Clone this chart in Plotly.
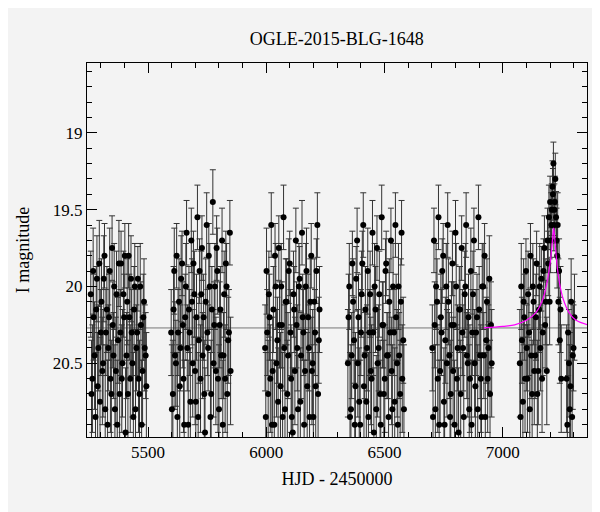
import plotly.graph_objects as go

t1 = [5258,5265,5270,5278,5284,5290,5297,5303,5310,5316,5322,5329,5335,5341,5348,5354,5360,5367,5373,5380,5386,5392,5399,5405,5412,5418,5425,5431,5438,5444,5451,5457,5464,5470,5477,5483,5490]
m1 = [20.05,20.6,20.2,20.85,19.95,20.4,20.75,20.1,20.5,19.8,20.3,20.9,20.2,20.6,19.75,20.45,20.8,20.05,20.35,20.7,19.85,20.5,20.2,20.95,20.1,19.8,20.6,20.3,20.85,20.0,20.4,19.95,20.7,20.25,20.55,20.1,20.45]
e1 = [0.2,0.25,0.2,0.3,0.2,0.2,0.3,0.2,0.25,0.15,0.2,0.3,0.2,0.25,0.15,0.2,0.3,0.2,0.2,0.25,0.15,0.25,0.2,0.3,0.2,0.15,0.25,0.2,0.3,0.2,0.2,0.15,0.25,0.2,0.25,0.2,0.2]
t1b = [5261,5268,5274,5281,5287,5294,5300,5307,5313,5319,5326,5332,5338,5345,5351,5357,5364,5370,5377,5383,5389,5396,5402,5409,5415,5421,5428,5434,5441,5447,5454,5460,5467,5473,5480,5486,5493]
m1b = [20.7,19.9,20.45,20.15,20.65,19.85,20.3,20.55,19.95,20.8,20.15,20.4,19.9,20.7,20.25,20.0,20.55,20.9,19.85,20.3,20.6,20.05,19.8,20.45,20.7,20.2,19.95,20.5,20.15,20.8,20.3,20.6,20.0,20.9,20.2,20.4,20.65]
e1b = [0.25,0.2,0.25,0.2,0.25,0.2,0.2,0.25,0.2,0.3,0.2,0.2,0.2,0.25,0.2,0.2,0.25,0.3,0.2,0.2,0.25,0.2,0.15,0.2,0.25,0.2,0.2,0.25,0.2,0.3,0.2,0.25,0.2,0.3,0.2,0.2,0.25]
t2 = [5598,5605,5611,5618,5624,5631,5637,5644,5650,5657,5663,5670,5676,5683,5689,5696,5702,5709,5715,5722,5728,5735,5741,5748,5754,5761,5767,5774,5780,5787,5793,5800,5806,5813,5819,5826,5832,5839,5846]
m2 = [20.3,20.7,19.9,20.5,20.85,20.1,20.4,19.85,20.6,20.2,19.65,20.9,20.3,19.7,20.5,20.05,20.75,19.55,20.35,20.6,19.75,20.2,20.95,19.6,20.4,20.0,20.7,19.45,20.25,20.55,19.9,20.8,20.15,19.7,20.45,20.6,20.0,20.35,19.65]
e2 = [0.2,0.25,0.2,0.2,0.3,0.2,0.2,0.15,0.25,0.2,0.15,0.3,0.2,0.15,0.25,0.2,0.3,0.15,0.2,0.25,0.15,0.2,0.3,0.15,0.2,0.2,0.25,0.15,0.2,0.25,0.2,0.3,0.2,0.15,0.2,0.25,0.2,0.2,0.15]
t2b = [5601,5608,5614,5621,5627,5634,5640,5647,5653,5660,5666,5673,5679,5686,5692,5699,5705,5712,5718,5725,5731,5738,5744,5751,5757,5764,5770,5777,5783,5790,5796,5803,5809,5816,5822,5829,5835,5842,5849]
m2b = [20.8,20.15,20.45,19.8,20.3,20.65,19.95,20.25,20.9,20.0,20.4,20.15,20.75,20.1,19.85,20.55,20.2,20.85,19.9,20.05,20.45,20.7,20.1,20.3,19.8,20.85,20.15,20.5,20.0,19.75,20.6,20.25,20.45,20.9,20.05,19.85,20.7,20.3,20.55]
e2b = [0.3,0.2,0.25,0.15,0.2,0.25,0.2,0.2,0.3,0.2,0.2,0.2,0.25,0.2,0.15,0.25,0.2,0.3,0.15,0.2,0.2,0.25,0.2,0.2,0.15,0.3,0.2,0.25,0.2,0.15,0.25,0.2,0.2,0.3,0.2,0.15,0.25,0.2,0.25]
t3 = [5995,6001,6008,6014,6021,6027,6034,6040,6047,6053,6060,6066,6073,6079,6086,6092,6099,6105,6112,6118,6125,6131,6138,6144,6151,6157,6164,6170,6177,6183,6190,6196,6203,6209,6216,6222]
m3 = [20.4,19.9,20.7,20.2,19.6,20.55,20.9,20.0,20.35,19.75,20.65,20.25,19.55,20.8,20.1,20.45,19.85,20.6,20.95,20.15,19.7,20.4,20.0,20.75,19.65,20.3,20.55,19.9,20.2,20.85,19.8,20.5,20.1,20.65,19.6,20.35]
e3 = [0.2,0.2,0.25,0.2,0.15,0.25,0.3,0.2,0.2,0.15,0.25,0.2,0.15,0.3,0.2,0.2,0.15,0.25,0.3,0.2,0.15,0.2,0.2,0.25,0.15,0.2,0.25,0.2,0.2,0.3,0.15,0.25,0.2,0.25,0.15,0.2]
t3b = [5998,6004,6011,6017,6024,6030,6037,6043,6050,6056,6063,6069,6076,6082,6089,6095,6102,6108,6115,6121,6128,6134,6141,6147,6154,6160,6167,6173,6180,6186,6193,6199,6206,6212,6219,6225]
m3b = [20.85,20.3,20.05,20.6,20.9,20.15,19.8,20.5,20.75,20.25,20.0,20.85,20.4,20.1,20.7,19.9,20.3,20.85,20.05,20.55,20.25,20.8,19.95,20.45,20.2,20.9,20.0,20.65,20.4,20.1,20.55,20.85,20.3,19.9,20.7,20.15]
e3b = [0.3,0.2,0.2,0.25,0.3,0.2,0.15,0.25,0.25,0.2,0.2,0.3,0.2,0.2,0.25,0.15,0.2,0.3,0.2,0.25,0.2,0.25,0.15,0.2,0.2,0.3,0.2,0.25,0.2,0.2,0.25,0.3,0.2,0.15,0.25,0.2]
t4 = [6345,6351,6358,6364,6371,6377,6384,6390,6397,6403,6410,6416,6423,6429,6436,6442,6449,6455,6462,6468,6475,6481,6488,6494,6501,6507,6514,6520,6527,6533,6540,6546,6553,6559,6566,6572,6579]
m4 = [20.5,20.0,20.8,19.85,20.35,20.65,19.7,20.2,20.9,20.05,19.6,20.45,20.75,19.9,20.3,20.55,19.65,20.95,20.15,19.75,20.4,20.7,19.55,20.25,20.6,19.85,20.45,20.1,19.7,20.8,20.3,19.6,20.5,20.0,20.7,19.65,20.35]
e4 = [0.25,0.2,0.3,0.15,0.2,0.25,0.15,0.2,0.3,0.2,0.15,0.2,0.25,0.2,0.2,0.25,0.15,0.3,0.2,0.15,0.2,0.25,0.15,0.2,0.25,0.15,0.2,0.2,0.15,0.3,0.2,0.15,0.25,0.2,0.25,0.15,0.2]
t4b = [6348,6354,6361,6367,6374,6380,6387,6393,6400,6406,6413,6419,6426,6432,6439,6445,6452,6458,6465,6471,6478,6484,6491,6497,6504,6510,6517,6523,6530,6536,6543,6549,6556,6562,6569,6575,6582]
m4b = [20.2,20.85,20.45,20.1,20.9,19.95,20.5,20.75,20.3,19.85,20.65,20.15,20.4,20.85,20.05,20.6,20.3,20.0,20.8,20.5,20.05,20.9,20.25,20.7,19.9,20.45,20.85,20.3,20.55,20.0,20.75,20.2,20.9,20.45,20.1,20.6,20.8]
e4b = [0.2,0.3,0.2,0.2,0.3,0.15,0.25,0.25,0.2,0.15,0.25,0.2,0.2,0.3,0.2,0.25,0.2,0.2,0.25,0.25,0.2,0.3,0.2,0.25,0.15,0.2,0.3,0.2,0.25,0.2,0.25,0.2,0.3,0.2,0.2,0.25,0.3]
t5 = [6702,6709,6715,6722,6728,6735,6741,6748,6754,6761,6767,6774,6780,6787,6793,6800,6806,6813,6819,6826,6832,6839,6845,6852,6858,6865,6871,6878,6884,6891,6897,6904,6910,6917,6923,6930,6936,6943,6950]
m5 = [20.4,19.7,20.8,20.1,19.55,20.55,20.3,19.8,20.9,20.0,19.6,20.45,20.7,19.85,20.25,19.65,20.6,20.95,20.15,19.75,20.4,20.05,19.6,20.5,20.8,19.9,20.3,19.7,20.65,20.2,19.55,20.45,20.85,20.0,19.8,20.35,20.6,19.95,20.25]
e5 = [0.2,0.15,0.3,0.2,0.15,0.25,0.2,0.15,0.3,0.2,0.15,0.2,0.25,0.15,0.2,0.15,0.25,0.3,0.2,0.15,0.2,0.2,0.15,0.25,0.3,0.2,0.2,0.15,0.25,0.2,0.15,0.2,0.3,0.2,0.15,0.2,0.25,0.2,0.2]
t5b = [6705,6712,6718,6725,6731,6738,6744,6751,6757,6764,6770,6777,6783,6790,6796,6803,6809,6816,6822,6829,6835,6842,6848,6855,6861,6868,6874,6881,6887,6894,6900,6907,6913,6920,6926,6933,6939,6946,6953]
m5b = [20.85,20.25,20.0,20.6,20.9,20.2,19.9,20.75,20.35,20.5,20.1,20.85,20.25,20.55,20.9,20.0,20.4,20.15,20.7,20.3,20.85,20.0,20.45,20.2,20.6,20.9,20.05,20.5,20.3,20.8,20.15,20.6,20.0,20.45,20.85,20.1,20.4,20.7,20.5]
e5b = [0.3,0.2,0.2,0.25,0.3,0.2,0.15,0.25,0.2,0.25,0.2,0.3,0.2,0.25,0.3,0.2,0.2,0.2,0.25,0.2,0.3,0.2,0.2,0.2,0.25,0.3,0.2,0.25,0.2,0.3,0.2,0.25,0.2,0.2,0.3,0.2,0.2,0.25,0.25]
t6 = [7072,7078,7085,7091,7098,7104,7111,7117,7124,7130,7137,7143,7150,7156,7163,7169,7176,7182,7189,7195,7200,7205,7210,7214,7218,7222,7227,7232,7238,7244,7270,7276,7283,7289,7296,7303]
m6 = [20.5,20.0,20.75,20.2,19.9,20.6,20.3,19.8,20.7,20.1,20.45,19.85,20.55,20.0,19.95,20.3,19.75,20.1,19.7,19.55,19.45,19.6,19.35,19.2,19.5,19.3,19.7,19.6,19.9,20.15,20.6,20.3,20.8,20.1,20.45,20.2]
e6 = [0.25,0.2,0.3,0.2,0.15,0.25,0.2,0.15,0.25,0.2,0.2,0.15,0.25,0.2,0.15,0.2,0.15,0.2,0.15,0.15,0.12,0.15,0.12,0.1,0.12,0.12,0.15,0.15,0.15,0.2,0.25,0.2,0.3,0.2,0.25,0.2]
t6b = [7075,7081,7088,7094,7101,7107,7114,7120,7127,7133,7140,7146,7153,7159,7166,7172,7179,7186,7192,7198,7202,7207,7212,7216,7220,7225,7230,7235,7241,7247,7273,7280,7286,7293,7299]
m6b = [20.85,20.35,20.1,20.6,20.4,20.05,20.8,20.45,20.0,20.55,20.2,20.7,20.15,20.4,20.6,19.9,20.25,20.55,19.85,20.1,19.7,19.5,19.4,19.6,19.45,19.55,19.8,20.1,20.35,20.6,20.9,20.5,20.65,20.85,20.4]
e6b = [0.3,0.2,0.2,0.25,0.2,0.2,0.3,0.2,0.2,0.25,0.2,0.25,0.2,0.2,0.25,0.15,0.2,0.25,0.15,0.2,0.15,0.12,0.12,0.12,0.12,0.12,0.15,0.2,0.2,0.25,0.3,0.25,0.25,0.3,0.2]

model_t = [6920,7000,7050,7100,7140,7170,7190,7200,7207,7212,7215,7218,7223,7230,7240,7255,7280,7310,7360]
model_m = [20.27,20.26,20.25,20.22,20.17,20.08,19.95,19.85,19.75,19.66,19.62,19.66,19.75,19.87,19.98,20.08,20.17,20.22,20.25]
base_t = [5240, 7360]
base_m = [20.27, 20.27]

t = t1+t1b+t2+t2b+t3+t3b+t4+t4b+t5+t5b+t6+t6b
m = m1+m1b+m2+m2b+m3+m3b+m4+m4b+m5+m5b+m6+m6b
e = e1+e1b+e2+e2b+e3+e3b+e4+e4b+e5+e5b+e6+e6b

font = "Liberation Serif"
fig = go.Figure()
fig.add_trace(go.Scatter(x=base_t, y=base_m, mode="lines", line=dict(color="#777777", width=1)))
fig.add_trace(go.Scatter(x=t, y=m, mode="markers",
    marker=dict(color="black", size=6),
    error_y=dict(type="data", array=[v * 1.4 for v in e], color="#333333", thickness=1, width=3)))
fig.add_trace(go.Scatter(x=model_t, y=model_m, mode="lines", line=dict(color="magenta", width=1.2, shape="spline")))

minor_common = dict(ticks="inside", ticklen=5, tickcolor="black")
ax = dict(showline=True, linecolor="black", linewidth=1, mirror="ticks", ticks="inside",
          ticklen=10, tickcolor="black", showgrid=False, zeroline=False, automargin=False,
          tickfont=dict(family=font, size=17, color="black"))
fig.update_layout(
    width=600, height=512, showlegend=False,
    paper_bgcolor="#f3f3f3", plot_bgcolor="#f3f3f3",
    margin=dict(l=79, r=21, t=55, b=83),
    title=dict(text="OGLE-2015-BLG-1648", x=0.548, xanchor="center", y=0.953,
               font=dict(family=font, size=18, color="black")),
    xaxis=dict(ax, range=[5242, 7356], tickvals=[5500, 6000, 6500, 7000],
               minor=dict(minor_common, dtick=100, tick0=0),
               title=dict(text="HJD - 2450000", standoff=10, font=dict(family=font, size=18, color="black"))),
    yaxis=dict(ax, range=[20.98, 18.545], tickvals=[19, 19.5, 20, 20.5],
               minor=dict(minor_common, dtick=0.1, tick0=0),
               title=dict(text="I magnitude", standoff=18, font=dict(family=font, size=18, color="black"))),
)
fig.write_html("out.html")
